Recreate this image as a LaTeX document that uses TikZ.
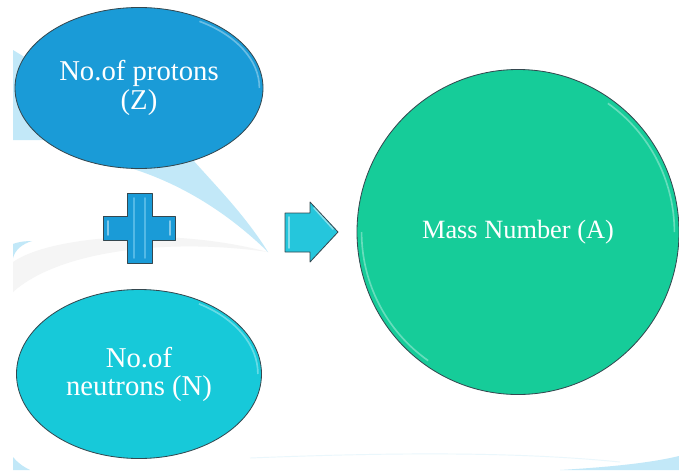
\documentclass[tikz,border=0pt]{standalone}
\usepackage{fontspec}
\setmainfont{Liberation Serif}
\usepackage{tikz}
\usetikzlibrary{positioning,shapes.geometric}
\definecolor{protonblue}{HTML}{1A9BD7}
\definecolor{neutroncyan}{HTML}{17C9D9}
\definecolor{massgreen}{HTML}{16CC99}
\definecolor{arrowcyan}{HTML}{25C6DC}
\definecolor{swooshblue}{HTML}{C2E8F8}
\definecolor{rimgray}{HTML}{34474F}
\tikzset{
  bubble/.style={draw=rimgray, ellipse, line width=0.7pt, text=white, align=center, inner sep=0pt, font=\rmfamily\fontsize{24.5}{24}\selectfont},
  rimlight/.style={draw=white, opacity=0.35, line width=1.4pt},
  swoosh/.style={fill=swooshblue},
  signshape/.style={draw=rimgray, line width=0.7pt, line join=round},
  signlight/.style={draw=white, opacity=0.45, line width=1.3pt, line cap=round}
}

\begin{document}
\begin{tikzpicture}[x=0.03cm, y=-0.03cm]
  \useasboundingbox[fill=white] (0,0) rectangle (679,470);

  % background swooshes
  \fill[black!4] (13,262) .. controls (50,236) and (170,226) .. (268,252)
    .. controls (170,238) and (60,250) .. (13,292) -- cycle;
  \fill[swoosh] (13,50) -- (193,160) .. controls (215,185) and (245,215) .. (268,252)
    .. controls (225,210) and (175,180) .. (120,165) -- (45,140) -- (13,140) -- cycle;
  \fill[swoosh] (13,258) .. controls (15,250) and (22,244) .. (32,241)
    .. controls (22,241) and (15,243) .. (13,244) -- cycle;
  \fill[swoosh] (13,470) -- (13,457) .. controls (17,462) and (22,466) .. (30,470) -- cycle;
  \fill[swoosh] (560,470) .. controls (610,467) and (650,463) .. (679,456) -- (679,470) -- cycle;
  \draw[swooshblue!35, line width=0.8pt] (250,458) .. controls (400,452) and (520,452) .. (620,462);

  % bubbles
  \node[bubble, fill=protonblue, minimum width=7.44cm, minimum height=4.83cm] (protons) at (139,88) {No.of protons\\(Z)};
  \node[bubble, fill=neutroncyan, minimum width=7.35cm, minimum height=5.07cm] (neutrons) at (139,374) {No.of\\neutrons (N)};
  \node[bubble, fill=massgreen, minimum width=9.66cm, minimum height=9.75cm, font=\rmfamily\fontsize{22.5}{24}\selectfont] (mass) at (518,232) {Mass Number (A)};
  \draw[rimlight] ([shift={(-4,0)}]protons.east) arc[start angle=0, end angle=-60, x radius=120, y radius=77];
  \draw[rimlight] ([shift={(-4,0)}]neutrons.east) arc[start angle=0, end angle=-60, x radius=118, y radius=81];
  \draw[rimlight] ([shift={(-5,0)}]mass.east) arc[start angle=0, end angle=-55, x radius=156, y radius=157];
  \draw[rimlight] ([shift={(5,0)}]mass.west) arc[start angle=180, end angle=125, x radius=156, y radius=157];

  % plus sign
  \coordinate (plus) at (139,228);
  \draw[signshape, fill=protonblue] (127,193) -- (152,193) -- (152,216) -- (175,216) -- (175,240)
    -- (152,240) -- (152,263) -- (127,263) -- (127,240) -- (103,240) -- (103,216) -- (127,216) -- cycle;
  \draw[signlight, draw=cyan!40] (134,198) -- (134,258);
  \draw[signlight, draw=cyan!40] (145,198) -- (145,258);
  \draw[signlight] (108,221) -- (108,235);
  \draw[signlight] (170,221) -- (170,235);

  % arrow sign
  \coordinate (arrowtip) at (338,232);
  \draw[signshape, fill=arrowcyan] (285,213) -- (310,213) -- (310,202) -- (arrowtip) -- (310,262)
    -- (310,252) -- (285,252) -- cycle;
  \draw[signlight] (289,217) -- (289,248);
  \draw[signlight] (314,208) -- (333,229);
\end{tikzpicture}
\end{document}
